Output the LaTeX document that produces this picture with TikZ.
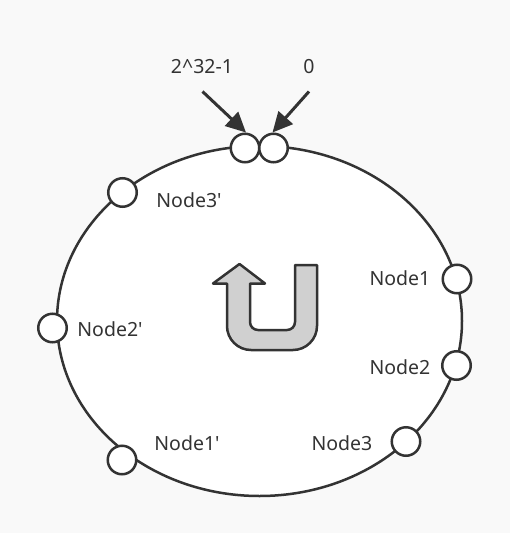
\documentclass[tikz,border=0pt]{standalone}
\usepackage{fontspec}
\setmainfont{Noto Sans}
\usetikzlibrary{arrows.meta}
\definecolor{bg}{HTML}{F9F9F9}
\definecolor{ink}{HTML}{333333}
\definecolor{ufill}{HTML}{D0D0D0}
\tikzset{
  ring/.style={draw=ink, line width=2.5pt, fill=white},
  slot/.style={circle, draw=ink, line width=2.5pt, fill=white, minimum size=28.5pt, inner sep=0pt},
  lbl/.style={text=ink, font=\fontsize{19.5}{23}\selectfont, inner sep=0pt},
  pointer/.style={draw=ink, line width=3pt, -{Triangle[length=20pt,width=19pt]}},
  uturn/.style={draw=ink, line width=2.5pt, fill=ufill, line join=round}
}
\begin{document}
\begin{tikzpicture}[x=1pt,y=-1pt]
\fill[bg] (0,0) rectangle (510,533);
\useasboundingbox (0,0) rectangle (510,533);
% ring
\draw[ring] (259.5,321) ellipse [x radius=202.5, y radius=175];
% slots
\node[slot] (top1) at (245,148) {};
\node[slot] (top0) at (273.5,148) {};
\node[slot] (n3p) at (122.5,192.5) {};
\node[slot] (n2p) at (52.5,328) {};
\node[slot] (n1p) at (122,460) {};
\node[slot] (n1) at (457,279) {};
\node[slot] (n2) at (456.5,365.5) {};
\node[slot] (n3) at (406,441.5) {};
% labels
\node[lbl] (l3p) at (189,200) {Node3\textquotesingle};
\node[lbl] (l2p) at (110,329) {Node2\textquotesingle};
\node[lbl] (l1p) at (187,443) {Node1\textquotesingle};
\node[lbl] (l1) at (400,278) {Node1};
\node[lbl] (l2) at (400,367) {Node2};
\node[lbl] (l3) at (342,443) {Node3};
\node[lbl] (lmax) at (202,67) {2\^{}32-1};
\node[lbl] (lzero) at (309,67) {0};
% pointers
\coordinate (s1) at (202.5,91.5);
\coordinate (s0) at (309,91.5);
\draw[pointer] (s1) -- ([xshift=1pt]top1.north);
\draw[pointer] (s0) -- ([xshift=-1pt]top0.north);
% U-turn arrow
\draw[uturn] (239.5,264) -- (265,283.5) -- (250,283.5) -- (250,322)
  .. controls (250,326.4) and (253.6,330) .. (258,330) -- (287,330)
  .. controls (291.4,330) and (295,326.4) .. (295,322) -- (295,265) -- (317,265)
  -- (317,326) .. controls (317,339.2) and (306.2,350) .. (293,350) -- (251,350)
  .. controls (237.8,350) and (227,339.2) .. (227,326) -- (227,283.5) -- (213,283.5) -- cycle;
\end{tikzpicture}
\end{document}
